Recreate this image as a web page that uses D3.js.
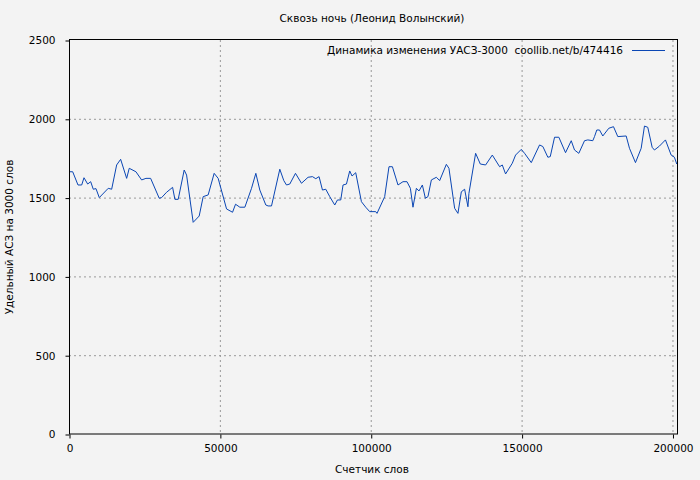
<!DOCTYPE html>
<html><head><meta charset="utf-8">
<script src="https://cdn.jsdelivr.net/npm/d3@7"></script>
<style>body{margin:0;background:#f3f3f3;} text{font-family:"DejaVu Sans",sans-serif;font-size:10.5px;fill:#000;white-space:pre;}</style>
</head><body>
<script>
const words = [331,1225,2980,4205,4967,6192,7185,8046,8940,10033,13012,14138,15794,17119,19104,19965,22184,24072,25495,27052,29899,30694,32349,34336,35098,36189,38176,38970,41157,43142,44470,46123,48110,49435,52215,54202,55195,56623,58278,60493,61918,63239,65228,65990,67114,69862,71186,72080,73173,75060,77046,79233,80690,81782,82876,84001,85100,86426,88077,88973,90063,90824,91950,93039,93802,95026,96914,98337,99661,101648,102078,104627,106052,107177,109032,110688,112012,113137,114000,115126,115987,117112,118106,118967,120094,121748,122841,125060,125920,127808,128901,130027,131120,132212,132542,134760,136317,138071,140290,142706,143600,144693,146911,148005,149892,150984,153203,155951,157044,158699,159494,160918,162342,164560,166448,167539,168963,170851,171943,173599,174162,174924,175818,176911,178898,180454,181878,184659,185752,187739,189626,190719,191812,193269,194030,195686,197672,199560,200653,201415];
const uasz = [1664,1664,1580,1580,1626,1586,1601,1553,1557,1500,1559,1553,1707,1743,1622,1686,1664,1612,1622,1622,1496,1500,1534,1565,1489,1489,1675,1643,1343,1383,1506,1517,1654,1622,1428,1407,1458,1439,1439,1559,1654,1548,1453,1447,1447,1680,1608,1580,1586,1654,1591,1629,1633,1620,1633,1548,1553,1506,1453,1485,1485,1580,1586,1669,1637,1658,1474,1439,1411,1411,1400,1506,1696,1696,1580,1601,1601,1559,1439,1559,1542,1580,1496,1506,1612,1629,1608,1711,1686,1432,1400,1537,1553,1442,1527,1781,1713,1707,1770,1696,1707,1650,1718,1770,1806,1781,1722,1834,1824,1756,1760,1883,1883,1785,1861,1802,1781,1861,1866,1861,1887,1929,1929,1891,1940,1950,1887,1891,1813,1722,1813,1954,1946,1819,1802,1827,1866,1770,1756,1713];
const xTicks = [0,50000,100000,150000,200000];
const yTicks = [0,500,1000,1500,2000,2500];

const W = 700, H = 480, m = {l:69, r:23, t:40, b:46};
const svg = d3.select("body").append("svg").attr("width", W).attr("height", H);
const x = d3.scaleLinear().domain([0, 201500]).range([m.l, W - m.r]);
const y = d3.scaleLinear().domain([0, 2500]).range([H - m.b, m.t]);

// grid
svg.append("g").selectAll("line").data(xTicks.slice(1)).join("line")
  .attr("x1", d => x(d) + .5).attr("x2", d => x(d) + .5).attr("y1", m.t).attr("y2", H - m.b)
  .attr("stroke", "#999").attr("stroke-dasharray", "2,3");
svg.append("g").selectAll("line").data(yTicks.slice(1, -1)).join("line")
  .attr("y1", d => y(d) + .5).attr("y2", d => y(d) + .5).attr("x1", m.l).attr("x2", W - m.r)
  .attr("stroke", "#999").attr("stroke-dasharray", "2,3");

svg.append("path").datum(words.map((w, i) => [w, uasz[i]]))
  .attr("fill", "none").attr("stroke", "#0a46b4").attr("stroke-width", 1)
  .attr("d", d3.line().x(d => x(d[0])).y(d => y(d[1])));

svg.append("rect").attr("x", m.l + .5).attr("y", m.t - .5).attr("width", W - m.r - m.l).attr("height", H - m.b - m.t + .5)
  .attr("fill", "none").attr("stroke", "#000");

const xa = svg.append("g").attr("transform", `translate(.5,${H - m.b + .5})`)
  .call(d3.axisBottom(x).tickValues(xTicks).tickFormat(d3.format("d")).tickSize(4).tickPadding(6));
const ya = svg.append("g").attr("transform", `translate(${m.l + .5},.5)`)
  .call(d3.axisLeft(y).tickValues(yTicks).tickFormat(d3.format("d")).tickSize(4).tickPadding(10));
[xa, ya].forEach(a => { a.select(".domain").remove(); a.selectAll("text").style("font-family", "DejaVu Sans").style("font-size", "10.5px"); });

svg.append("text").attr("x", 372).attr("y", 22).attr("text-anchor", "middle").text("Сквозь ночь (Леонид Волынский)");
svg.append("text").attr("x", 372).attr("y", 473).attr("text-anchor", "middle").text("Счетчик слов");
svg.append("text").attr("transform", "translate(13,237) rotate(-90)").attr("text-anchor", "middle").text("Удельный АСЗ на 3000 слов");
svg.append("text").attr("x", 623).attr("y", 54).attr("text-anchor", "end").text("Динамика изменения УАСЗ-3000  coollib.net/b/474416");
svg.append("line").attr("x1", 632).attr("x2", 665).attr("y1", 50.5).attr("y2", 50.5).attr("stroke", "#0a46b4");
</script>
</body></html>
